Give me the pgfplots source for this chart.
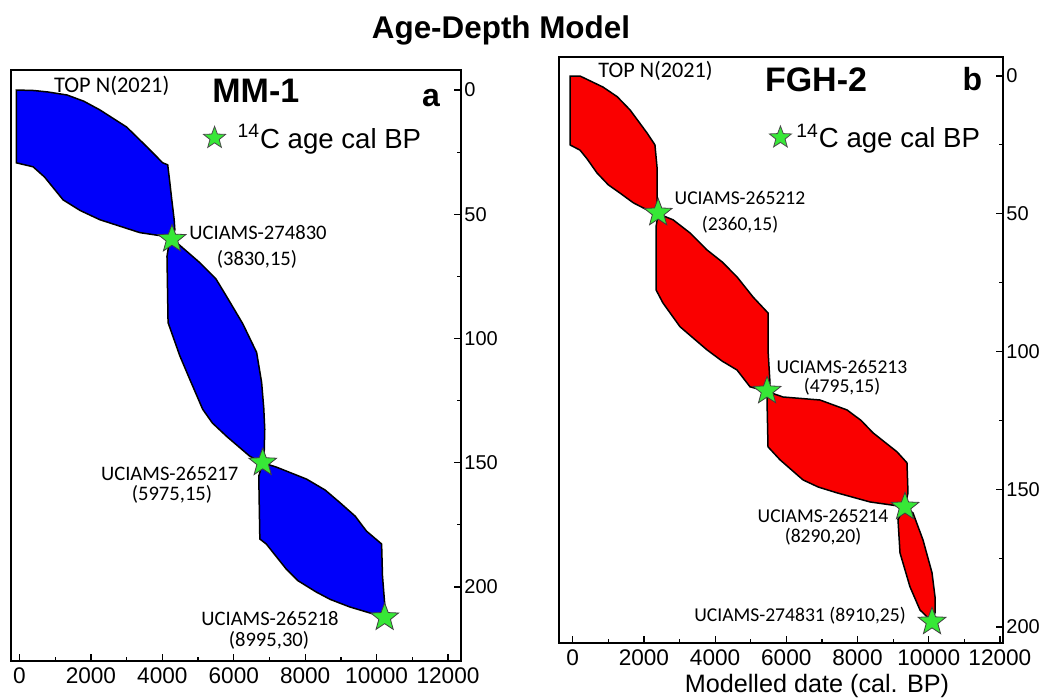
\documentclass[border=0pt]{standalone}
\usepackage{fontspec}
\setmainfont{Liberation Sans}
\newfontfamily\calfont{Carlito}
\usepackage{pgfplots}
\pgfplotsset{compat=1.18}
\definecolor{stargreen}{RGB}{55,232,55}
\definecolor{lobeblue}{RGB}{0,0,250}
\definecolor{lobered}{RGB}{250,0,0}
\pgfdeclareplotmark{fstar}{%
  \pgfpathmoveto{\pgfpointpolar{90}{\pgfplotmarksize}}%
  \pgfpathlineto{\pgfpointpolar{126}{0.42*\pgfplotmarksize}}%
  \pgfpathlineto{\pgfpointpolar{162}{\pgfplotmarksize}}%
  \pgfpathlineto{\pgfpointpolar{198}{0.42*\pgfplotmarksize}}%
  \pgfpathlineto{\pgfpointpolar{234}{\pgfplotmarksize}}%
  \pgfpathlineto{\pgfpointpolar{270}{0.42*\pgfplotmarksize}}%
  \pgfpathlineto{\pgfpointpolar{306}{\pgfplotmarksize}}%
  \pgfpathlineto{\pgfpointpolar{342}{0.42*\pgfplotmarksize}}%
  \pgfpathlineto{\pgfpointpolar{18}{\pgfplotmarksize}}%
  \pgfpathlineto{\pgfpointpolar{54}{0.42*\pgfplotmarksize}}%
  \pgfpathclose
  \pgfusepathqfillstroke}
\pgfplotsset{agestyle/.style={
  scale only axis, y dir=reverse, anchor=south west,
  axis line style={line width=1.1pt},
  tick align=inside,
  xtick={0,2000,...,12000}, ytick={0,50,...,200},
  minor x tick num=1, minor y tick num=1,
  xtick pos=bottom, ytick pos=right, yticklabel pos=right,
  major tick length=3.5pt, minor tick length=2pt,
  tick style={black, line width=0.6pt},
  scaled x ticks=false,
  /pgf/number format/assume math mode=true,
  /pgf/number format/1000 sep={},
  x tick label style={font=\fontsize{11.3}{13}\selectfont},
  y tick label style={font=\fontsize{10}{12}\selectfont, inner xsep=1.5pt},
  legend style={draw=none, fill=none, inner sep=0pt, column sep=4pt, font=\fontsize{13.8}{16}\selectfont, anchor=west},
  legend image code/.code={\draw[mark=fstar, mark size=5.8pt, mark options={fill=stargreen, draw=black!70, line width=0.4pt}] plot coordinates {(0.3cm,0cm)};},
  starplot/.style={only marks, mark=fstar, mark size=7.3pt, mark options={fill=stargreen, draw=black!75, line width=0.4pt}},
  lobe/.style={draw=black, line width=0.75pt, forget plot},
}}
\begin{document}
\begin{tikzpicture}
\useasboundingbox (0,0) rectangle (528.5pt,349pt);
% ---------------- panel a ----------------
\begin{axis}[agestyle, at={(5.5pt,18.5pt)}, width=225pt, height=295.5pt,
  xmin=-238, xmax=12363, ymin=-8.05, ymax=229.8,
  legend style={at={(0.427,0.885)}}]
\addplot[lobe, fill=lobeblue] coordinates {
 (-90,0) (400,0.2) (800,0.8) (1330,2.0) (1800,4.5) (2250,8.0) (3000,14.9) (3570,22.9)
 (4010,29.3) (4150,30.1) (4200,36) (4265,44.2) (4330,52) (4350,56.2) (4270,60)
 (4120,59) (3370,57.4) (2250,52.2) (1700,48.5) (1220,44.2) (700,35) (380,30.9) (-90,29.3)
} -- cycle;
\addplot[lobe, fill=lobeblue] coordinates {
 (4270,60) (4400,61.4) (5050,69.5) (5500,76) (5800,83.1) (6250,94) (6640,105.6) (6780,117.7)
 (6840,128) (6868,136.5) (6850,147) (6810,150)
 (6450,147.4) (5800,139.4) (5400,134) (5130,128.5) (4770,116.5) (4490,107) (4160,93.6) (4130,67) (4190,61.5)
} -- cycle;
\addplot[lobe, fill=lobeblue] coordinates {
 (6810,150) (7200,151.8) (8040,156.6) (8560,161) (8960,165.9) (9400,171.5) (9715,177.5) (10140,182.7)
 (10165,195.6) (10222,206) (10225,212)
 (9890,210.8) (9240,208) (8700,205) (8305,202) (7800,197.5) (7470,192.8) (6910,182.7) (6730,180.7) (6700,155.4)
} -- cycle;
\addplot[starplot] coordinates {(4270,60) (6810,150) (10225,212.3)};
\addlegendentry{\textsuperscript{14}C age cal BP}
\end{axis}
% ---------------- panel b ----------------
\begin{axis}[agestyle, at={(279.5pt,27.5pt)}, width=222pt, height=293pt,
  axis line style={line width=0.9pt},
  xmin=-385, xmax=12087, ymin=-6.9, ymax=205.8,
  legend style={at={(0.473,0.8626)}, column sep=0.5pt}]
\addplot[lobe, fill=lobered] coordinates {
 (-76,0) (205,0) (850,4) (1250,7.5) (1610,12.3) (2090,20.7) (2310,25) (2368,33) (2368,47.5) (2400,50)
 (2090,48.6) (1700,46) (1330,42.5) (1000,39.5) (683,35.2) (400,30) (205,26.9) (-76,25)
} -- cycle;
\addplot[lobe, fill=lobered] coordinates {
 (2400,50) (2820,52.2) (3300,57) (3770,63.1) (4200,67.5) (4615,72.9) (5065,80.2) (5486,86) (5486,99.4) (5542,111.4) (5460,114.5)
 (4980,112.8) (4615,106.7) (4200,103.5) (3772,99.4) (3014,91) (2536,82.4) (2340,77.6) (2340,54.8)
} -- cycle;
\addplot[lobe, fill=lobered] coordinates {
 (5460,114.5) (5907,116.5) (6947,117.6) (7705,121.2) (8100,125) (8435,129.5) (9109,136.4) (9390,140.4) (9418,151.3) (9334,156.4)
 (8351,154.6) (7424,151.3) (6900,149.2) (6469,146.6) (5823,139.3) (5486,134.6) (5458,117.6)
} -- cycle;
\addplot[lobe, fill=lobered] coordinates {
 (9334,156.4) (9559,158.6) (9840,168.4) (10093,180.3) (10177,189) (10177,194.8) (10093,198.1)
 (9755,193.8) (9474,185.4) (9194,173.1) (9137,161)
} -- cycle;
\addplot[starplot] coordinates {(2400,49.7) (5460,114.3) (9334,156.4) (10093,198.1)};
\addlegendentry{\textsuperscript{14}C age cal BP}
\end{axis}
% ---------------- texts ----------------
\node[font=\bfseries\fontsize{15.7}{18}\selectfont, anchor=base] at (250.5pt,329.85pt) {Age-Depth Model};
% panel a
\node[font=\calfont\fontsize{11.2}{13}\selectfont] at (55.85pt,306.15pt) {TOP N(2021)};
\node[font=\bfseries\fontsize{17}{20}\selectfont] at (127.9pt,303.6pt) {MM-1};
\node[font=\bfseries\fontsize{16}{19}\selectfont] at (215.5pt,300pt) {a};
\begin{scope}[every node/.style={font=\calfont\fontsize{10.3}{12}\selectfont, inner sep=0pt}]
\node at (129pt,232.5pt) {UCIAMS-274830};
\node at (128.5pt,219.5pt) {(3830,15)};
\node at (84.85pt,112pt) {UCIAMS-265217};
\node at (86pt,101.8pt) {(5975,15)};
\node at (135pt,39.5pt) {UCIAMS-265218};
\node at (134.5pt,28.6pt) {(8995,30)};
\end{scope}
% panel b
\node[font=\calfont\fontsize{11.1}{13}\selectfont] at (327.75pt,313.6pt) {TOP N(2021)};
\node[font=\bfseries\fontsize{17}{20}\selectfont] at (408pt,309pt) {FGH-2};
\node[font=\bfseries\fontsize{16}{19}\selectfont] at (486.25pt,309.5pt) {b};
\begin{scope}[every node/.style={font=\calfont\fontsize{9.8}{12}\selectfont, inner sep=0pt}]
\node at (370pt,250pt) {UCIAMS-265212};
\node at (370pt,236.6pt) {(2360,15)};
\node at (421pt,165.5pt) {UCIAMS-265213};
\node at (421pt,155.5pt) {(4795,15)};
\node at (411.5pt,90.8pt) {UCIAMS-265214};
\node at (411.5pt,80.6pt) {(8290,20)};
\node at (400pt,41pt) {UCIAMS-274831 (8910,25)};
\end{scope}
\node[font=\fontsize{12.6}{15}\selectfont] at (408.5pt,6.1pt) {Modelled date (cal. BP)};
\end{tikzpicture}
\end{document}
